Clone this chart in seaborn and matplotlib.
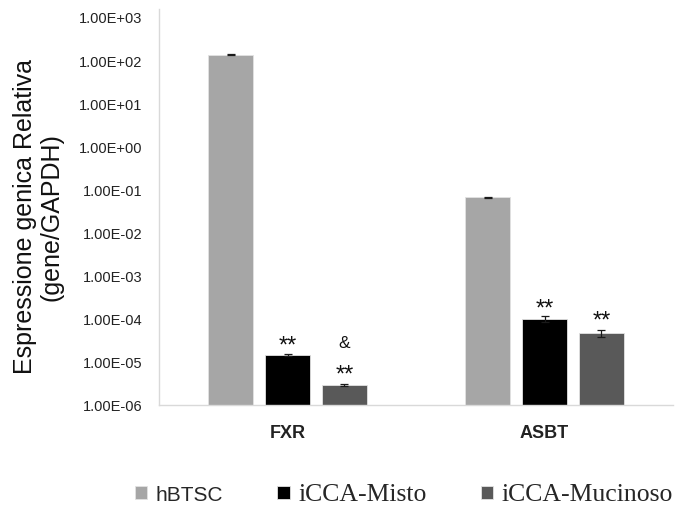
import numpy as np
import pandas as pd
import seaborn as sns
from matplotlib import pyplot as plt
from matplotlib.ticker import FixedLocator, FuncFormatter, NullLocator

genes = ['FXR', 'ASBT']
groups = ['hBTSC', 'iCCA-Misto', 'iCCA-Mucinoso']
colors = ['#A6A6A6', '#000000', '#595959']

# relative expression (gene/GAPDH), one row per group, columns follow genes
values = {
    'hBTSC': [133.0, 0.065],
    'iCCA-Misto': [1.44e-5, 9.8e-5],
    'iCCA-Mucinoso': [2.9e-6, 4.7e-5],
}
errors = {
    'hBTSC': [4.0, 0.001],
    'iCCA-Misto': [0.05e-5, 1.6e-5],
    'iCCA-Mucinoso': [0.1e-6, 0.9e-5],
}
# significance marks above each bar: (text, offset in pixels, font size)
marks = {
    'hBTSC': [[], []],
    'iCCA-Misto': [[('**', 4, 17)], [('**', 5, 17)]],
    'iCCA-Mucinoso': [[('**', 5, 17), ('&', 38, 12.5)], [('**', 6, 17)]],
}

rows = []
for g in groups:
    for gene, v in zip(genes, values[g]):
        rows.append({'gene': gene, 'group': g, 'value': v})
df = pd.DataFrame(rows)

sns.set_style('white')
plt.rcParams['font.family'] = ['Liberation Sans', 'DejaVu Sans']

fig = plt.figure(figsize = (6.76, 5.06), dpi = 100)
ax = fig.add_axes([159 / 676, 1 - 406 / 506, 514 / 676, 396 / 506])

sns.barplot(
    df,
    x = 'gene',
    y = 'value',
    hue = 'group',
    hue_order = groups,
    order = genes,
    palette = colors,
    width = 0.663,
    gap = 0.21,
    errorbar = None,
    edgecolor = '#E2E2E2',
    linewidth = 0.6,
    legend = False,
    ax = ax
)

ax.set_yscale('log')
ax.set_ylim(1e-6, 10 ** 3.185)
ax.set_xlim(-0.5, 1.5)

for cont, g in zip(ax.containers, groups):
    for i, bar in enumerate(cont):
        xc = bar.get_x() + bar.get_width() / 2
        top = bar.get_height()
        ax.errorbar(xc, top, yerr = errors[g][i], color = '#1A1A1A',
                    capsize = 3, elinewidth = 0.9, capthick = 0.9, zorder = 5)
        for text, off, size in marks[g][i]:
            ax.annotate(text, xy = (xc, top), xytext = (0, off),
                        textcoords = 'offset pixels', ha = 'center',
                        va = 'baseline', fontsize = size, color = '#111111')

ax.yaxis.set_major_locator(FixedLocator([10.0 ** k for k in range(-6, 4)]))
ax.yaxis.set_minor_locator(NullLocator())
ax.yaxis.set_major_formatter(FuncFormatter(lambda v, pos: f'{v:.2E}'))
ax.tick_params(axis = 'y', length = 0, pad = 12, labelsize = 10.5, labelcolor = '#222222')
ax.tick_params(axis = 'x', length = 0, pad = 14, labelsize = 13)
for lab in ax.get_xticklabels():
    lab.set_fontweight('bold')
    lab.set_color('#222222')

ax.set_xlabel('')
ax.set_ylabel('')
for side in ['top', 'right']:
    ax.spines[side].set_visible(False)
for side in ['left', 'bottom']:
    ax.spines[side].set_color('#D9D9D9')
    ax.spines[side].set_linewidth(1.0)

fig.text(38 / 676, 1 - 217 / 506, 'Espressione genica Relativa\n(gene/GAPDH)',
         rotation = 90, ha = 'center', va = 'center', fontsize = 18,
         multialignment = 'center', linespacing = 1.15, color = '#111111')

handles = [cont[0] for cont in ax.containers]
leg = fig.legend(
    handles, groups,
    loc = 'center',
    bbox_to_anchor = (404 / 676, 1 - 495 / 506),
    ncol = 3,
    frameon = False,
    fontsize = 15,
    handlelength = 0.6,
    handleheight = 0.6,
    handletextpad = 0.4,
    columnspacing = 2.6,
    borderpad = 0
)
for t in leg.get_texts()[1:]:
    t.set_fontfamily(['Liberation Serif', 'DejaVu Serif'])
    t.set_fontsize(18.5)

fig.savefig('out.png', dpi = 100)
